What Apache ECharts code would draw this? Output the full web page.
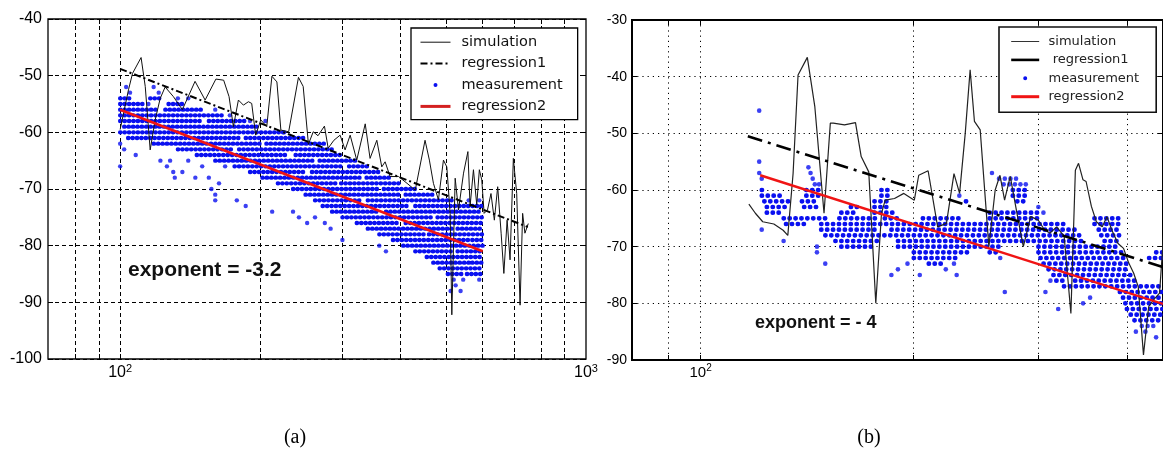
<!DOCTYPE html>
<html><head><meta charset="utf-8">
<script src="https://cdn.jsdelivr.net/npm/echarts@6/dist/echarts.min.js"></script>
<style>html,body{margin:0;padding:0;background:#fff}#c{width:1163px;height:452px}</style>
</head><body><div id="c"></div>
<script>
// ---------- axis ticks ----------
const xGridA = [80, 90, 100, 200, 300, 400, 500, 600, 700, 800, 900];
const xLabelA = [100, 1000];
const xGridB = [90, 100, 200, 300, 400];
const xLabelB = [100];

// ---------- panel (a) ----------
const simA = [[100,-59.5],[104.2,-52.5],[106.3,-49.6],[110.9,-46.8],[113.2,-51.9],[116,-63.1],[118.9,-57.8],[121.9,-54],[124.9,-52],[130.1,-53.7],[136,-56],[144.8,-51],[152.2,-54.3],[160.5,-50.6],[166.8,-50.8],[171.3,-53.7],[175,-59],[179.4,-54.3],[183.9,-55.2],[188.5,-54.6],[191.6,-54.9],[195.4,-60.5],[200.4,-57.8],[206.4,-59],[211.7,-50.1],[217,-51.1],[221.3,-59.6],[230,-59.9],[241.4,-50.3],[247.1,-51.9],[253.6,-62.1],[259.7,-59.9],[265.9,-60.6],[274.5,-58.9],[279.6,-62.8],[287.6,-61.4],[296.6,-60.5],[304,-63.1],[311.7,-60.5],[322,-64.9],[335.8,-58.5],[343.9,-64.6],[355.6,-61.4],[364.4,-66.1],[370.5,-65.2],[379.7,-67.8],[396,-67.8],[412.9,-69],[430,-70.2],[451.3,-61.4],[461.1,-64.9],[470.4,-69],[482.2,-71.9],[494.3,-64.9],[502.6,-66.1],[510.9,-74.3],[515.2,-92.2],[523.8,-68.1],[532.4,-73.7],[545.9,-67.2],[557.8,-63.4],[563.8,-73.1],[573.3,-66.6],[582.7,-72.8],[590.3,-66.6],[597.4,-68.4],[604.4,-74.3],[614.5,-73.7],[625.2,-70.8],[635.7,-75.5],[646.3,-69.6],[657.4,-77.8],[666.3,-84.9],[677.1,-75.5],[687,-82.5],[698.3,-64.6],[710,-70.8],[721.9,-90.5],[731.1,-74.3],[739.4,-77.8],[751.8,-76.1]];
const reg1A = [[100,-48.8],[750,-76.7]];
const reg2A = [[100,-56.0],[600,-81.0]];
// measurement rows: [dB, x from, x to]
const measRowsA = [
[-54,100,106],[-54,116,122],
[-55,100,112],[-55,127,136],
[-56,100,120],[-56,125,150],
[-57,100,168],
[-58,100,150],[-58,155,185],
[-59,102,200],
[-60,100,228],
[-61,104,180],[-61,186,250],
[-62,118,200],[-62,206,276],
[-63,133,175],[-63,180,290],
[-64,146,230],[-64,238,302],
[-65,160,260],[-65,268,322],
[-66,176,300],[-66,310,342],
[-67,190,250],[-67,258,362],
[-68,202,330],[-68,338,382],
[-69,218,290],[-69,298,402],
[-70,235,360],[-70,368,435],
[-71,250,400],[-71,410,468],
[-72,262,330],[-72,340,520],
[-73,272,420],[-73,430,600],
[-74,285,360],[-74,372,600],
[-75,300,470],[-75,480,600],
[-76,322,400],[-76,410,600],
[-77,340,520],[-77,530,600],
[-78,360,450],[-78,460,600],
[-79,385,560],[-79,570,600],
[-80,405,600],
[-81,430,520],[-81,530,600],
[-82,455,600],
[-83,470,560],[-83,570,600],
[-84,485,600],
[-85,505,545],[-85,555,600]
];
const measDotsA = [[103,-52],[118,-52],[105,-53],[121,-53],[133,-54],[140,-54],[115,-55],[100,-62],[102,-63],[108,-64],[100,-66],[122,-65],[128,-65],[140,-65],[126,-66],[150,-66],[168,-66],[130,-67],[136,-67],[131,-68],[145,-68],[155,-68],[163,-69],[157,-70],[160,-71],[160,-72],[178,-72],[186,-73],[212,-74],[235,-74],[242,-75],[262,-75],[252,-76],[275,-76],[283,-77],[300,-79],[360,-80],[372,-81],[520,-86],[545,-86],[590,-86],[525,-87],[512,-88],[538,-88],[560,-72],[590,-72],[225,-60],[205,-58],[190,-58],[172,-57],[160,-56]];

// ---------- panel (b) ----------
const simB = [[117,-62.5],[119.5,-64.1],[122.4,-65.6],[126.9,-66],[130.8,-67.1],[132.8,-68],[135.1,-57.1],[137.3,-39.7],[141.5,-36.6],[145,-45.3],[149.4,-64.1],[152.5,-48.2],[154,-48.2],[159.7,-48.5],[165.5,-48.1],[168.6,-54.1],[172.8,-56.8],[176.8,-80],[180.1,-64.1],[182.3,-61.8],[187.9,-61.5],[193.7,-60.6],[200.4,-61.8],[203.3,-57.4],[209.6,-56.6],[216.2,-66.5],[222.5,-65.9],[228,-57.1],[232.2,-60.6],[236.5,-50],[240.3,-38.8],[243.7,-47.9],[248.3,-49.4],[255.4,-70],[260.7,-60],[264.8,-57.4],[268.8,-61.8],[273.8,-57.6],[280.4,-64.7],[285.7,-70],[292.6,-64.7],[299.8,-65.3],[306.3,-67.1],[311.6,-67.6],[318.4,-66.5],[326.3,-68.2],[333.5,-81.8],[338.4,-56.5],[341.9,-55.3],[346.9,-58.2],[350.4,-58.5],[356.5,-62.9],[362.3,-65.6],[369.3,-66.5],[375,-64.7],[381.1,-67.1],[388.5,-69.4],[395.8,-70.3],[402.6,-72.9],[409.1,-74.7],[415.2,-77.1],[422.3,-89.1],[429.5,-80.6],[436.3,-79.4],[445,-78.2],[451,-67.6]];
const reg1B = [[116.6,-50.5],[450,-73.6]];
const reg2B = [[121.4,-57.4],[450,-80.1]];
const measRowsB = [
[-60,122,124],[-60,141,147],[-60,180,186],[-60,276,289],
[-61,122,130],[-61,141,147],[-61,180,186],[-61,276,289],
[-62,123,133],[-62,139,147],[-62,176,184],[-62,237,241],[-62,280,289],
[-63,124,133],[-63,140,147],[-63,163,168],[-63,176,183],
[-64,124,130],[-64,158,165],[-64,176,190],[-64,256,300],
[-65,131,150],[-65,157,178],[-65,182,190],[-65,206,232],[-65,256,302],[-65,360,390],
[-66,132,142],[-66,148,330],[-66,360,390],
[-67,148,178],[-67,186,340],[-67,365,392],
[-68,150,345],[-68,368,392],
[-69,155,178],[-69,190,350],[-69,372,392],
[-70,158,176],[-70,190,268],[-70,300,392],
[-71,200,240],[-71,256,264],[-71,300,395],[-71,440,450],
[-72,200,232],[-72,302,398],[-72,430,450],
[-73,210,220],[-73,305,400],
[-74,310,400],
[-75,315,405],
[-76,318,330],[-76,338,410],
[-77,326,450],
[-78,391,450],
[-79,395,450],
[-80,398,450],
[-81,400,450],
[-82,405,450],
[-83,410,445]
];
const measDotsB = [[121,-46],[121,-55],[121,-57],[122,-58],[142,-56],[143,-57],[144,-58],[145,-59],[147,-59],[122,-67],[131,-69],[146,-70],[146,-71],[150,-73],[190,-74],[186,-75],[204,-75],[222,-74],[230,-75],[228,-73],[196,-73],[258,-57],[264,-58],[269,-58],[274,-58],[279,-58],[268,-59],[273,-59],[278,-59],[283,-59],[288,-59],[269,-78],[307,-78],[312,-76],[320,-81],[347,-80],[355,-79],[420,-84],[428,-84],[436,-84],[412,-85],[425,-85],[440,-86],[232,-61],[265,-72],[300,-63],[305,-64]];

// ---------- build ----------
function rowsToLine(rows) {
  const out = [];
  rows.forEach(r => { out.push([r[1], r[0]], [r[2], r[0]], ['-', '-']); });
  return out;
}
const BLUE = '#0a10f0', RED = '#f01414', BLK = '#111';
const supFmt = v => '{b|10}{s|' + Math.round(Math.log10(v)) + '}';
const richA = {
  b: {fontSize: 16, lineHeight: 18, padding: [6, 0, 0, 0], fontFamily: 'Liberation Sans', color: '#000', verticalAlign: 'bottom'},
  s: {fontSize: 11, lineHeight: 12, fontFamily: 'Liberation Sans', color: '#000', verticalAlign: 'top'}
};
const richB = {
  b: {fontSize: 15, lineHeight: 17, padding: [6, 0, 0, 0], fontFamily: 'Liberation Sans', color: '#000', verticalAlign: 'bottom'},
  s: {fontSize: 10, lineHeight: 11, fontFamily: 'Liberation Sans', color: '#000', verticalAlign: 'top'}
};
const dotIconA = 'path://M0,0L0.01,0M30,14L29.99,14M13,7A2,2,0,1,0,17,7A2,2,0,1,0,13,7Z';
const dotIconB = 'path://M0,0L0.01,0M28,12L27.99,12M12,6A2,2,0,1,0,16,6A2,2,0,1,0,12,6Z';
const noSym = {opacity: 0, borderWidth: 0};

function xAx(grid, min, max, pos, ticks, labels, rich, dash, main) {
  return {
    gridIndex: grid, type: 'log', logBase: 10, min: min, max: max, position: pos,
    axisLine: {show: false},
    axisTick: {show: true, inside: true, length: 5, customValues: ticks, lineStyle: {color: '#000', width: 1}},
    minorTick: {show: false}, minorSplitLine: {show: false},
    splitLine: {show: !!main, lineStyle: {color: '#000', width: 1, type: dash}},
    axisLabel: main ? {show: true, customValues: labels, margin: main === 'a' ? 4 : 3, formatter: supFmt, rich: rich} : {show: false}
  };
}
function yAx(grid, min, max, pos, dash, main, fs, margin) {
  return {
    gridIndex: grid, type: 'value', min: min, max: max, interval: 10, position: pos,
    axisLine: {show: false},
    axisTick: {show: true, inside: true, length: 5, lineStyle: {color: '#000', width: 1}},
    splitLine: {show: main, lineStyle: {color: '#000', width: 1, type: dash}},
    axisLabel: main ? {show: true, color: '#000', fontSize: fs, fontFamily: 'Liberation Sans', margin: margin} : {show: false}
  };
}

const option = {
  animation: false,
  backgroundColor: '#fff',
  grid: [
    {left: 48, top: 19, width: 538, height: 340, show: true, borderColor: '#000', borderWidth: 1.3, backgroundColor: 'transparent', outerBoundsMode: 'none', containLabel: false},
    {left: 632, top: 20, width: 531, height: 340, show: true, borderColor: '#000', borderWidth: 2, backgroundColor: 'transparent', outerBoundsMode: 'none', containLabel: false}
  ],
  xAxis: [
    xAx(0, 70, 1000, 'bottom', xGridA, xLabelA, richA, [4, 3], 'a'),
    xAx(0, 70, 1000, 'top', xGridA, null, null, [4, 3], false),
    xAx(1, 80, 450, 'bottom', xGridB, xLabelB, richB, [1.2, 4], 'b'),
    xAx(1, 80, 450, 'top', xGridB, null, null, [1.2, 4], false)
  ],
  yAxis: [
    yAx(0, -100, -40, 'left', [4, 3], true, 16, 6),
    yAx(0, -100, -40, 'right', [4, 3], false, 16, 6),
    yAx(1, -90, -30, 'left', [1.2, 4], true, 14, 5),
    yAx(1, -90, -30, 'right', [1.2, 4], false, 14, 5)
  ],
  legend: [
    {
      left: 411, top: 28, orient: 'vertical', itemWidth: 30, itemHeight: 14, itemGap: 6.4,
      padding: [6.7, 15, 5.7, 8], borderColor: '#000', borderWidth: 1.3, backgroundColor: '#fff',
      selectedMode: false, z: 10,
      textStyle: {fontFamily: 'DejaVu Sans', fontSize: 14.5, color: '#111', lineHeight: 14, padding: [0, 0, 0, 6]},
      data: [
        {name: 'simulation', itemStyle: noSym, lineStyle: {width: 1, type: 'solid', color: BLK}},
        {name: 'regression1', itemStyle: noSym, lineStyle: {width: 2, type: [7, 3, 2, 3], color: '#000'}},
        {name: 'measurement', icon: dotIconA, itemStyle: {color: BLUE, borderWidth: 0}},
        {name: 'regression2', itemStyle: noSym, lineStyle: {width: 3, type: 'solid', color: '#d42020'}}
      ]
    },
    {
      left: 999, top: 27, orient: 'vertical', itemWidth: 28, itemHeight: 12, itemGap: 5.4,
      padding: [8, 17, 9, 10.7], borderColor: '#111', borderWidth: 1.6, backgroundColor: '#fff',
      selectedMode: false, z: 10,
      formatter: n => (n === 'regression1' ? ' regression1' : n),
      textStyle: {fontFamily: 'DejaVu Sans', fontSize: 13, color: '#222', lineHeight: 12, padding: [0, 0, 0, 4.3]},
      data: [
        {name: 'simulation', itemStyle: noSym, lineStyle: {width: 1, type: 'solid', color: '#333'}},
        {name: 'regression1', itemStyle: noSym, lineStyle: {width: 2.6, type: 'solid', color: '#000'}},
        {name: 'measurement', icon: dotIconB, itemStyle: {color: BLUE, borderWidth: 0}},
        {name: 'regression2', itemStyle: noSym, lineStyle: {width: 3, type: 'solid', color: RED}}
      ]
    }
  ],
  series: [
    // panel a
    {name: 'measurement', type: 'line', xAxisIndex: 0, yAxisIndex: 0, data: rowsToLine(measRowsA), symbol: 'none', showSymbol: false, z: 2,
     lineStyle: {color: BLUE, width: 4.4, type: [0.3, 4.1], cap: 'round'}, itemStyle: {color: BLUE}, silent: true},
    {name: 'measurement', type: 'scatter', xAxisIndex: 0, yAxisIndex: 0, data: measDotsA, symbol: 'circle', symbolSize: 4.4, itemStyle: {color: BLUE}, z: 2, silent: true},
    {name: 'simulation', type: 'line', xAxisIndex: 0, yAxisIndex: 0, data: simA, symbol: 'none', showSymbol: false, z: 3,
     lineStyle: {color: BLK, width: 1}, itemStyle: {color: BLK}, silent: true},
    {name: 'regression1', type: 'line', xAxisIndex: 0, yAxisIndex: 0, data: reg1A, symbol: 'none', showSymbol: false, z: 4,
     lineStyle: {color: '#000', width: 2, type: [7, 3, 2, 3]}, itemStyle: {color: '#000'}, silent: true},
    {name: 'regression2', type: 'line', xAxisIndex: 0, yAxisIndex: 0, data: reg2A, symbol: 'none', showSymbol: false, z: 5,
     lineStyle: {color: RED, width: 2.6}, itemStyle: {color: RED}, silent: true},
    // panel b
    {name: 'measurement', type: 'line', xAxisIndex: 2, yAxisIndex: 2, data: rowsToLine(measRowsB), symbol: 'none', showSymbol: false, z: 2,
     lineStyle: {color: BLUE, width: 4.6, type: [0.3, 5.6], cap: 'round'}, itemStyle: {color: BLUE}, silent: true},
    {name: 'measurement', type: 'scatter', xAxisIndex: 2, yAxisIndex: 2, data: measDotsB, symbol: 'circle', symbolSize: 4.6, itemStyle: {color: BLUE}, z: 2, silent: true},
    {name: 'simulation', type: 'line', xAxisIndex: 2, yAxisIndex: 2, data: simB, symbol: 'none', showSymbol: false, z: 3,
     lineStyle: {color: '#222', width: 1.2}, itemStyle: {color: '#222'}, silent: true},
    {name: 'regression1', type: 'line', xAxisIndex: 2, yAxisIndex: 2, data: reg1B, symbol: 'none', showSymbol: false, z: 4,
     lineStyle: {color: '#000', width: 2.6, type: [15, 6, 3, 6]}, itemStyle: {color: '#000'}, silent: true},
    {name: 'regression2', type: 'line', xAxisIndex: 2, yAxisIndex: 2, data: reg2B, symbol: 'none', showSymbol: false, z: 5,
     lineStyle: {color: RED, width: 2.4}, itemStyle: {color: RED}, silent: true}
  ],
  graphic: [
    {type: 'text', x: 128, y: 270, z: 20, style: {text: 'exponent = -3.2', font: 'bold 21px "Liberation Sans"', fill: '#111', verticalAlign: 'middle'}},
    {type: 'text', x: 755, y: 323, z: 20, style: {text: 'exponent = - 4', font: 'bold 18px "Liberation Sans"', fill: '#111', verticalAlign: 'middle'}},
    {type: 'text', x: 295, y: 438, z: 20, style: {text: '(a)', font: '20px "Liberation Serif"', fill: '#000', align: 'center', verticalAlign: 'middle'}},
    {type: 'text', x: 869, y: 438, z: 20, style: {text: '(b)', font: '20px "Liberation Serif"', fill: '#000', align: 'center', verticalAlign: 'middle'}}
  ]
};
const chart = echarts.init(document.getElementById('c'), null, {renderer: 'canvas', width: 1163, height: 452});
chart.setOption(option);
</script>
</body></html>
